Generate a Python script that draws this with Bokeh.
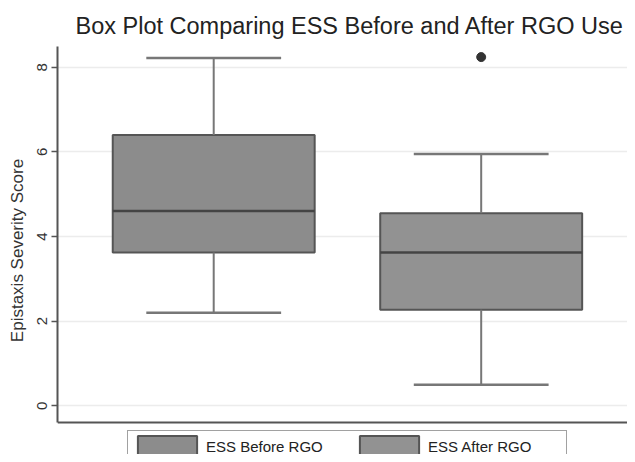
from bokeh.plotting import figure
from bokeh.models import Legend, LegendItem, Range1d, FixedTicker, Span
from bokeh.embed import file_html
from bokeh.resources import INLINE
import numpy as np

# ---- data ----
categories = ["ESS Before RGO", "ESS After RGO"]
lower_whisker = [2.2, 0.5]
q1 = [3.62, 2.27]
median = [4.6, 3.62]
q3 = [6.4, 4.55]
upper_whisker = [8.22, 5.95]
outlier_group = [1]
outlier_value = [8.24]
y_ticks = [0, 2, 4, 6, 8]

FONT = "Liberation Sans"
xs = np.arange(len(categories)) + 1.0
Y_AXIS_MIN = -0.395

p = figure(width=627, height=454, output_backend="svg", toolbar_location=None,
           x_range=Range1d(0.416, 2.547), y_range=Range1d(-1.151, 8.49),
           min_border_left=57, min_border_right=0, min_border_top=46,
           min_border_bottom=0)
p.background_fill_color = "white"
p.border_fill_color = "white"
p.outline_line_color = None

p.title.text = "Box Plot Comparing ESS Before and After RGO Use"
p.title.text_font = FONT
p.title.text_font_size = "23.5px"
p.title.text_font_style = "normal"
p.title.text_color = "#222222"
p.title.align = "left"
p.title.offset = 18
p.title.standoff = 16

box_w = 0.755
cap_w = 0.504
fills = ["#8c8c8c", "#929292"]

box_renderers = []
for i in range(len(categories)):
    r = p.vbar(x=[xs[i]], width=box_w, bottom=[q1[i]], top=[q3[i]],
               fill_color=fills[i], line_color="#555555", line_width=2)
    box_renderers.append(r)

# whiskers
p.segment(x0=xs, y0=q3, x1=xs, y1=upper_whisker, line_color="#777777", line_width=2)
p.segment(x0=xs, y0=q1, x1=xs, y1=lower_whisker, line_color="#777777", line_width=2)
# caps
p.segment(x0=xs - cap_w / 2, y0=upper_whisker, x1=xs + cap_w / 2, y1=upper_whisker,
          line_color="#777777", line_width=2.5)
p.segment(x0=xs - cap_w / 2, y0=lower_whisker, x1=xs + cap_w / 2, y1=lower_whisker,
          line_color="#777777", line_width=2.5)
# medians
p.segment(x0=xs - box_w / 2, y0=median, x1=xs + box_w / 2, y1=median,
          line_color="#444444", line_width=2.5)
# outliers
p.scatter(x=[xs[g] for g in outlier_group], y=outlier_value, size=9,
          fill_color="#333333", line_color="#333333")

# axes
p.xaxis.visible = False
p.xgrid.grid_line_color = None
p.add_layout(Span(location=Y_AXIS_MIN, dimension="width",
                  line_color="#555555", line_width=2))

p.yaxis.ticker = FixedTicker(ticks=y_ticks)
p.yaxis.bounds = (Y_AXIS_MIN, 8.49)
p.yaxis.axis_label = "Epistaxis Severity Score"
p.yaxis.axis_label_text_font = FONT
p.yaxis.axis_label_text_font_size = "17px"
p.yaxis.axis_label_text_font_style = "normal"
p.yaxis.axis_label_text_color = "#333333"
p.yaxis.axis_label_standoff = 8
p.yaxis.major_label_text_font = FONT
p.yaxis.major_label_text_font_size = "15px"
p.yaxis.major_label_text_color = "#333333"
p.yaxis.major_label_orientation = "vertical"
p.yaxis.major_label_standoff = 4
p.yaxis.axis_line_color = "#555555"
p.yaxis.axis_line_width = 2
p.yaxis.major_tick_line_color = "#555555"
p.yaxis.major_tick_line_width = 1.5
p.yaxis.major_tick_in = 0
p.yaxis.major_tick_out = 6
p.yaxis.minor_tick_line_color = None
p.ygrid.grid_line_color = "#ececec"
p.ygrid.grid_line_width = 1.5

legend = Legend(items=[LegendItem(label=categories[i], renderers=[box_renderers[i]])
                       for i in range(len(categories))],
                orientation="horizontal", location=(70, -8),
                label_text_font=FONT, label_text_font_size="15px",
                label_text_color="#222222", label_width=136,
                glyph_width=74, glyph_height=26, label_standoff=2, spacing=10,
                padding=2, margin=0,
                border_line_color="#444444", border_line_width=1.5,
                background_fill_color="white", background_fill_alpha=1)
p.add_layout(legend, "center")

open("out.html", "w").write(file_html(p, INLINE))
